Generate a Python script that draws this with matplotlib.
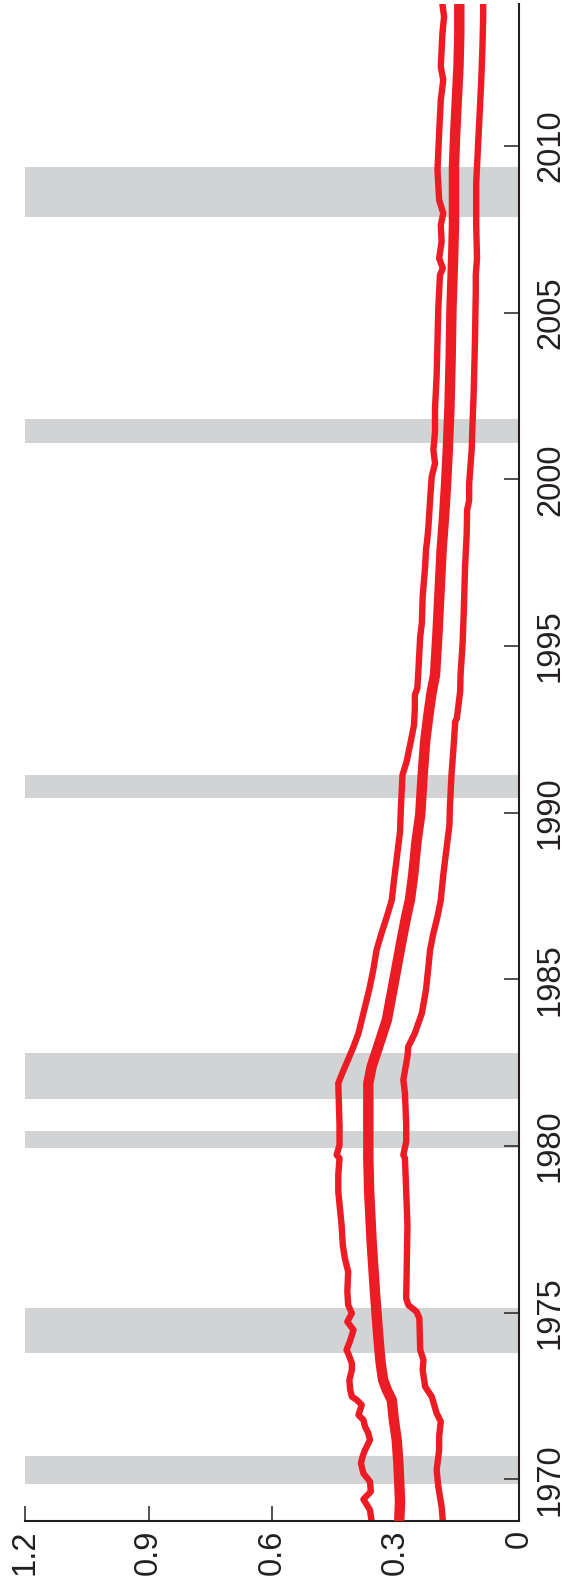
import numpy as np
import matplotlib
matplotlib.use("Agg")
import matplotlib.pyplot as plt

plt.rcParams["font.family"] = ["Liberation Sans", "DejaVu Sans"]

RED = "#ED1C24"; BAND = "#D1D3D4"; INK = "#231F20"

# recession periods (fractional years)
rec = [(1969.85, 1970.70), (1973.78, 1975.14), (1979.94, 1980.46), (1981.42, 1982.78),
       (1990.43, 1991.13), (2001.10, 2001.80), (2007.86, 2009.38)]

# upper band
up_t = [1968.74, 1969.08, 1969.40, 1969.63, 1969.93, 1970.18, 1970.48, 1970.68, 1970.88, 1971.18,
        1971.38, 1971.58, 1971.78, 1971.93, 1972.23, 1972.38, 1972.48, 1972.68, 1972.98, 1973.28,
        1973.48, 1973.78, 1973.88, 1974.13, 1974.48, 1974.73, 1974.98, 1975.23, 1975.63, 1976.23,
        1976.63, 1977.03, 1977.63, 1978.13, 1978.63, 1979.13, 1979.63, 1979.73, 1980.03, 1980.63,
        1981.88, 1982.13, 1982.48, 1982.98, 1983.38, 1983.98, 1984.68, 1985.28, 1985.88, 1986.38,
        1986.88, 1987.38, 1987.93, 1988.63, 1989.43, 1990.13, 1991.13, 1991.53, 1992.13, 1992.63,
        1993.13, 1993.53, 1993.73, 1994.13, 1995.28, 1995.68, 1996.48, 1997.38, 1997.88, 1998.18,
        1998.58, 1999.38, 2000.08, 2000.48, 2000.88, 2001.43, 2002.13, 2003.13, 2004.13, 2005.13,
        2006.13, 2006.33, 2006.63, 2007.13, 2007.63, 2007.98, 2008.38, 2009.28, 2010.38, 2011.38,
        2011.98, 2012.38, 2013.38, 2013.88, 2014.26]
up_v = [0.358, 0.362, 0.378, 0.360, 0.362, 0.378, 0.384, 0.380, 0.374, 0.362,
        0.366, 0.374, 0.378, 0.390, 0.382, 0.394, 0.406, 0.410, 0.412, 0.406,
        0.406, 0.415, 0.419, 0.411, 0.402, 0.417, 0.406, 0.415, 0.417, 0.415,
        0.423, 0.428, 0.431, 0.435, 0.439, 0.439, 0.436, 0.443, 0.436, 0.436,
        0.439, 0.431, 0.419, 0.402, 0.390, 0.378, 0.364, 0.354, 0.346, 0.334,
        0.321, 0.309, 0.304, 0.297, 0.289, 0.287, 0.283, 0.273, 0.263, 0.255,
        0.253, 0.253, 0.247, 0.245, 0.240, 0.236, 0.234, 0.228, 0.226, 0.223,
        0.220, 0.216, 0.212, 0.204, 0.208, 0.204, 0.204, 0.200, 0.198, 0.196,
        0.192, 0.185, 0.194, 0.188, 0.190, 0.184, 0.194, 0.198, 0.194, 0.190,
        0.184, 0.190, 0.186, 0.182, 0.186]

# point estimate
mid_t = [1968.74, 1969.33, 1969.93, 1970.48, 1971.18, 1971.78, 1972.38, 1972.68, 1972.98, 1973.48,
         1973.88, 1974.63, 1975.63, 1977.13, 1978.63, 1979.63, 1980.63, 1981.88, 1982.38, 1982.98,
         1983.78, 1984.58, 1985.38, 1986.18, 1986.88, 1987.38, 1988.13, 1989.13, 1989.93, 1991.13,
         1992.13, 1992.93, 1993.63, 1994.13, 1995.38, 1996.88, 1997.88, 1998.88, 1999.88, 2000.88,
         2002.13, 2003.63, 2005.13, 2006.63, 2007.63, 2009.38, 2010.38, 2011.38, 2012.38, 2013.38,
         2014.26]
mid_v = [0.291, 0.289, 0.291, 0.293, 0.297, 0.304, 0.309, 0.321, 0.330, 0.336,
         0.339, 0.344, 0.350, 0.358, 0.364, 0.366, 0.366, 0.366, 0.358, 0.342,
         0.321, 0.309, 0.297, 0.285, 0.274, 0.265, 0.257, 0.249, 0.240, 0.234,
         0.228, 0.220, 0.212, 0.204, 0.198, 0.192, 0.188, 0.182, 0.177, 0.173,
         0.169, 0.166, 0.164, 0.160, 0.158, 0.158, 0.155, 0.151, 0.147, 0.145,
         0.145]

# lower band
lo_t = [1968.74, 1969.18, 1969.78, 1970.28, 1970.88, 1971.28, 1971.73, 1971.98, 1972.48, 1972.78,
        1973.28, 1973.58, 1973.88, 1974.83, 1975.03, 1975.23, 1975.43, 1976.13, 1977.63, 1978.63,
        1979.63, 1979.73, 1980.13, 1980.63, 1981.58, 1981.98, 1982.68, 1982.98, 1983.38, 1983.98,
        1984.68, 1985.38, 1985.88, 1986.38, 1986.88, 1987.38, 1988.13, 1988.93, 1989.63, 1990.13,
        1991.13, 1991.63, 1992.13, 1992.73, 1992.83, 1993.63, 1994.13, 1995.08, 1996.08, 1997.38,
        1998.38, 1999.08, 1999.38, 1999.88, 2000.88, 2001.63, 2002.63, 2004.13, 2005.63, 2006.13,
        2006.63, 2007.63, 2008.88, 2009.88, 2010.88, 2011.88, 2012.88, 2013.88, 2014.26]
lo_v = [0.185, 0.188, 0.196, 0.200, 0.194, 0.194, 0.190, 0.200, 0.212, 0.228,
        0.234, 0.232, 0.240, 0.242, 0.249, 0.269, 0.274, 0.273, 0.271, 0.274,
        0.277, 0.281, 0.274, 0.274, 0.277, 0.281, 0.271, 0.269, 0.253, 0.236,
        0.226, 0.220, 0.216, 0.208, 0.198, 0.190, 0.184, 0.176, 0.169, 0.168,
        0.164, 0.161, 0.158, 0.155, 0.151, 0.143, 0.142, 0.137, 0.134, 0.131,
        0.127, 0.126, 0.121, 0.121, 0.115, 0.113, 0.110, 0.107, 0.105, 0.105,
        0.102, 0.104, 0.104, 0.100, 0.096, 0.092, 0.089, 0.087, 0.087]

xt = [0, 0.3, 0.6, 0.9, 1.2]
xt_lab = ["0", "0.3", "0.6", "0.9", "1.2"]
yt = [1970, 1975, 1980, 1985, 1990, 1995, 2000, 2005, 2010]

fig = plt.figure(figsize=(5.73, 15.85), dpi=100)
ax = fig.add_axes([25 / 573, (1585 - 1521.3) / 1585, 494 / 573, 1517.3 / 1585])

for a, b in rec:
    ax.axhspan(a, b, color=BAND, lw=0, zorder=0)
ax.plot(up_v, up_t, color=RED, lw=4.6, solid_joinstyle="round", zorder=2)
ax.plot(lo_v, lo_t, color=RED, lw=4.6, solid_joinstyle="round", zorder=2)
ax.plot(mid_v, mid_t, color=RED, lw=7.5, solid_joinstyle="round", zorder=3)

ax.set_xlim(1.2, 0)
ax.set_ylim(1968.74, 2014.26)
for s in ("left", "top"):
    ax.spines[s].set_visible(False)
for s in ("right", "bottom"):
    ax.spines[s].set_linewidth(1.5); ax.spines[s].set_color(INK)

ax.yaxis.tick_right()
ax.set_xticks(xt); ax.set_xticklabels(xt_lab)
ax.set_yticks(yt); ax.set_yticklabels([str(y) for y in yt])
ax.tick_params(direction="in", length=10.8, width=1.1, color=INK, labelcolor=INK, labelsize=23.5)
ax.tick_params(axis="x", pad=6, labelrotation=90)
ax.tick_params(axis="y", pad=11.5, labelrotation=90)
for lab in ax.get_yticklabels():
    lab.set_va("center")

fig.savefig("out.png", dpi=100)
